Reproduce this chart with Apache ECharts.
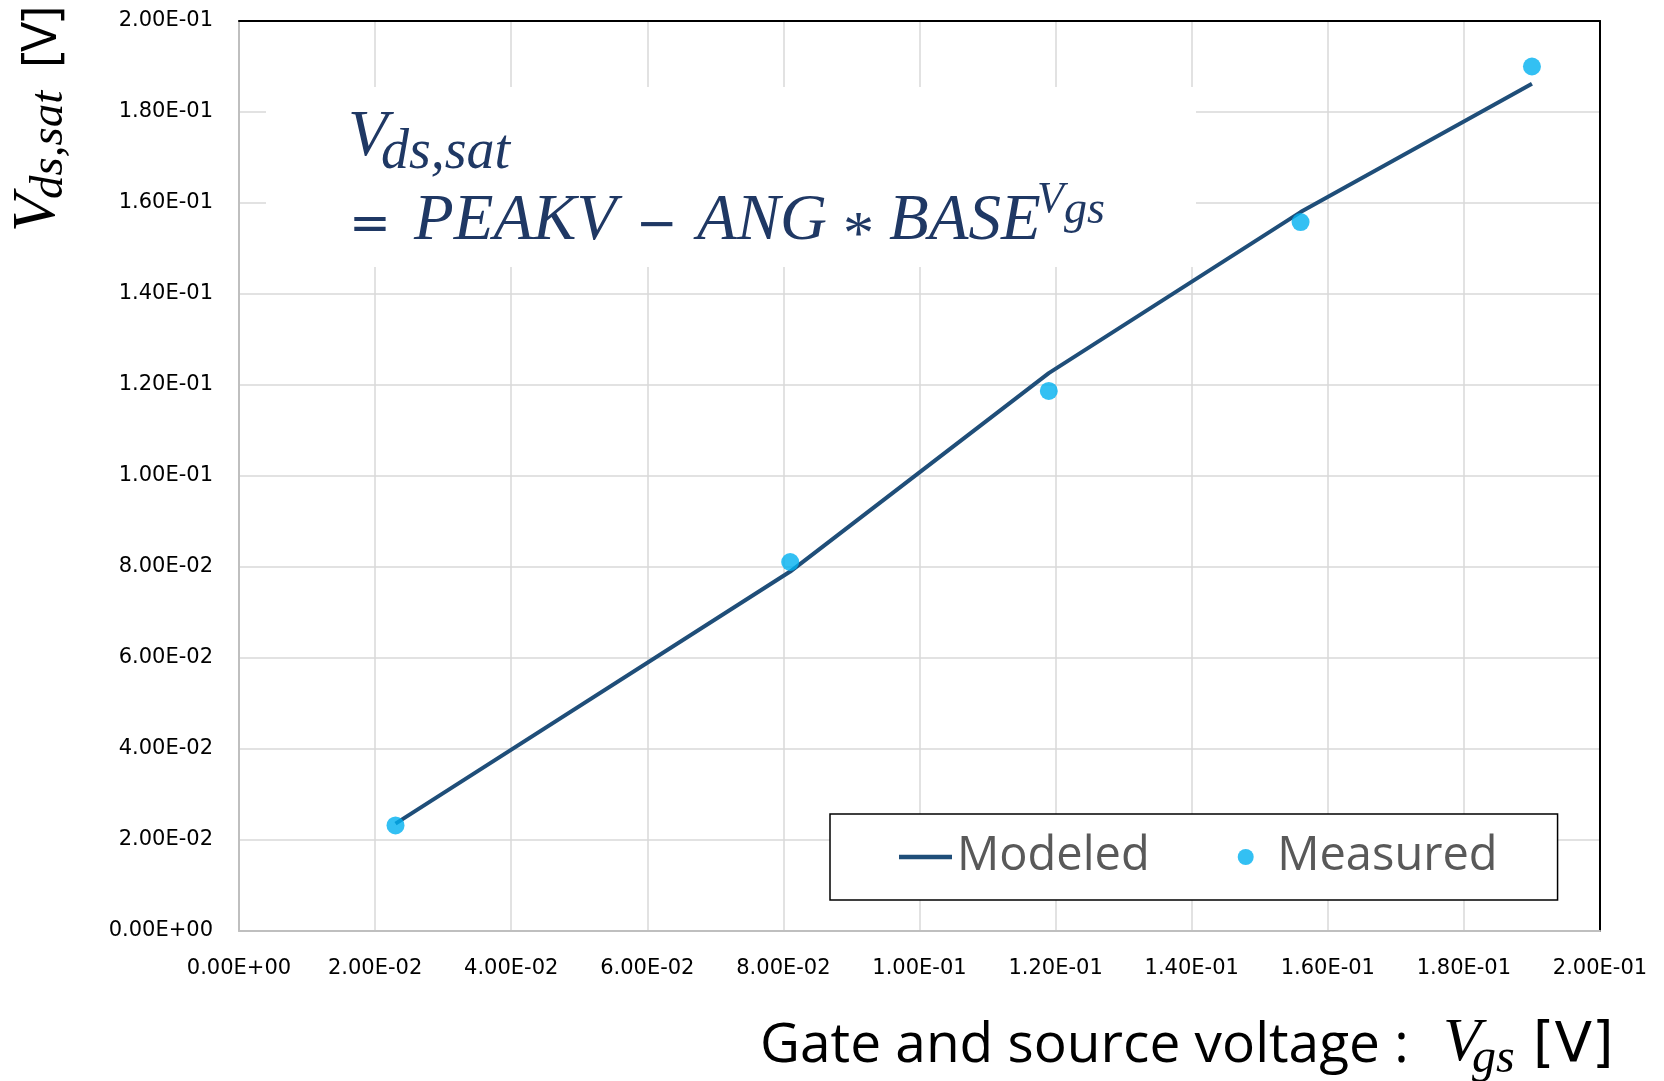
<!DOCTYPE html>
<html>
<head>
<meta charset="utf-8">
<script src="https://cdn.jsdelivr.net/npm/echarts@6/dist/echarts.min.js"></script>
<style>
  html, body { margin: 0; padding: 0; background: #fff; }
  #chart { width: 1664px; height: 1081px; }
</style>
</head>
<body>
<div id="chart"></div>
<script>
// Saturation voltage vs gate-source voltage
const vgsMeasured = [0.023, 0.081, 0.119, 0.156, 0.190];
const vdsMeasured = [0.0232, 0.0811, 0.1187, 0.1558, 0.1900];
const vgsModeled = [0.023, 0.081, 0.119, 0.156, 0.190];
const vdsModeled = [0.0236, 0.0790, 0.1226, 0.1580, 0.1862];

const tickLabels = ['0.00E+00', '2.00E-02', '4.00E-02', '6.00E-02', '8.00E-02', '1.00E-01',
                    '1.20E-01', '1.40E-01', '1.60E-01', '1.80E-01', '2.00E-01'];
const tickStep = 0.02;

const SANS = '"Open Sans", "DejaVu Sans", sans-serif';
const WIDE_SANS = '"DejaVu Sans", sans-serif';
const SERIF = '"Liberation Serif", serif';
const NAVY = '#1F3864';
const LINE_BLUE = '#1F4E79';

function tickLabel(v) {
  return tickLabels[Math.round(v / tickStep)] || '';
}

// text run placed by its baseline
function run(t, x, base, size, family, italic, color) {
  return {
    type: 'text', x: x, y: base - size * 0.32, z: 10, silent: true,
    style: {
      text: t, fill: color, fontSize: size, fontFamily: family,
      fontStyle: italic ? 'italic' : 'normal',
      textAlign: 'left', textVerticalAlign: 'middle', align: 'left', verticalAlign: 'middle'
    }
  };
}

// frame edges (top and right) of the plot area
function frameAxis(position) {
  return {
    type: 'value', min: 0, max: 0.2, interval: tickStep, position: position,
    axisLine: { show: true, onZero: false, lineStyle: { color: '#000', width: 2 } },
    axisTick: { show: false }, axisLabel: { show: false }, splitLine: { show: false }
  };
}

const chart = echarts.init(document.getElementById('chart'), null, { renderer: 'canvas' });

chart.setOption({
  animation: false,
  backgroundColor: '#fff',
  grid: { left: 239, top: 21, right: 64, bottom: 150 },
  xAxis: [{
    type: 'value', min: 0, max: 0.2, interval: tickStep, position: 'bottom',
    axisLine: { show: true, onZero: false, lineStyle: { color: '#bfbfbf', width: 2 } },
    axisTick: { show: false },
    splitLine: { show: true, lineStyle: { color: '#d9d9d9', width: 1.5 } },
    axisLabel: { formatter: tickLabel, color: '#000', fontSize: 21, fontFamily: WIDE_SANS, margin: 27 }
  }, frameAxis('top')],
  yAxis: [{
    type: 'value', min: 0, max: 0.2, interval: tickStep, position: 'left',
    axisLine: { show: true, onZero: false, lineStyle: { color: '#bfbfbf', width: 2 } },
    axisTick: { show: false },
    splitLine: { show: true, lineStyle: { color: '#d9d9d9', width: 1.5 } },
    axisLabel: { formatter: tickLabel, color: '#000', fontSize: 21, fontFamily: WIDE_SANS, margin: 26 }
  }, frameAxis('right')],
  legend: {
    left: 830, top: 814,
    orient: 'horizontal',
    padding: [19, 60, 19, 69],
    itemGap: 88, itemWidth: 53, itemHeight: 16,
    borderColor: '#000', borderWidth: 1.5, backgroundColor: '#fff',
    textStyle: { color: '#595959', fontSize: 47, fontFamily: SANS, lineHeight: 48 },
    data: [
      { name: 'Modeled', icon: 'path://M0,0H53V4.5H0Z' },
      { name: 'Measured', icon: 'circle' }
    ]
  },
  series: [
    {
      name: 'Modeled', type: 'line', symbol: 'none',
      data: vgsModeled.map((x, i) => [x, vdsModeled[i]]),
      lineStyle: { color: LINE_BLUE, width: 4 },
      itemStyle: { color: LINE_BLUE }, z: 2
    },
    {
      name: 'Measured', type: 'scatter', symbol: 'circle', symbolSize: 18,
      data: vgsMeasured.map((x, i) => [x, vdsMeasured[i]]),
      itemStyle: { color: '#00B0F0' }, z: 3
    }
  ],
  graphic: [
    // white panel behind the formula
    { type: 'rect', z: 1, silent: true, shape: { x: 266, y: 87, width: 930, height: 180 }, style: { fill: '#fff' } },
    // formula, first line
    run('V', 348, 159, 65, SERIF, true, NAVY),
    run('ds,sat', 381, 171, 56, SERIF, true, NAVY),
    // formula, second line
    run('=', 349, 243, 50, WIDE_SANS, false, NAVY),
    run('PEAKV', 414, 243, 65, SERIF, true, NAVY),
    run('\u2212', 636, 243, 50, WIDE_SANS, false, NAVY),
    run('ANG', 697, 243, 65, SERIF, true, NAVY),
    run('*', 843, 257, 62, SERIF, false, NAVY),
    run('BASE', 889, 243, 65, SERIF, true, NAVY),
    run('V', 1037, 215, 44, SERIF, true, NAVY),
    run('gs', 1064, 226, 46, SERIF, true, NAVY),
    // x axis title
    run('Gate and source voltage : ', 760, 1064, 55, SANS, false, '#000'),
    run('V', 1443, 1064, 62, SERIF, true, '#000'),
    run('gs', 1472, 1075, 48, SERIF, true, '#000'),
    run('[V]', 1533, 1064, 55, WIDE_SANS, false, '#000'),
    // y axis title, reading bottom to top
    {
      type: 'group', x: 0, y: 240, rotation: Math.PI / 2, silent: true,
      children: [
        run('V', 8, 58, 62, SERIF, true, '#000'),
        run('ds,sat', 41, 65, 47, SERIF, true, '#000'),
        run('[V]', 172, 58, 50, SANS, false, '#000')
      ]
    }
  ]
});
</script>
</body>
</html>
